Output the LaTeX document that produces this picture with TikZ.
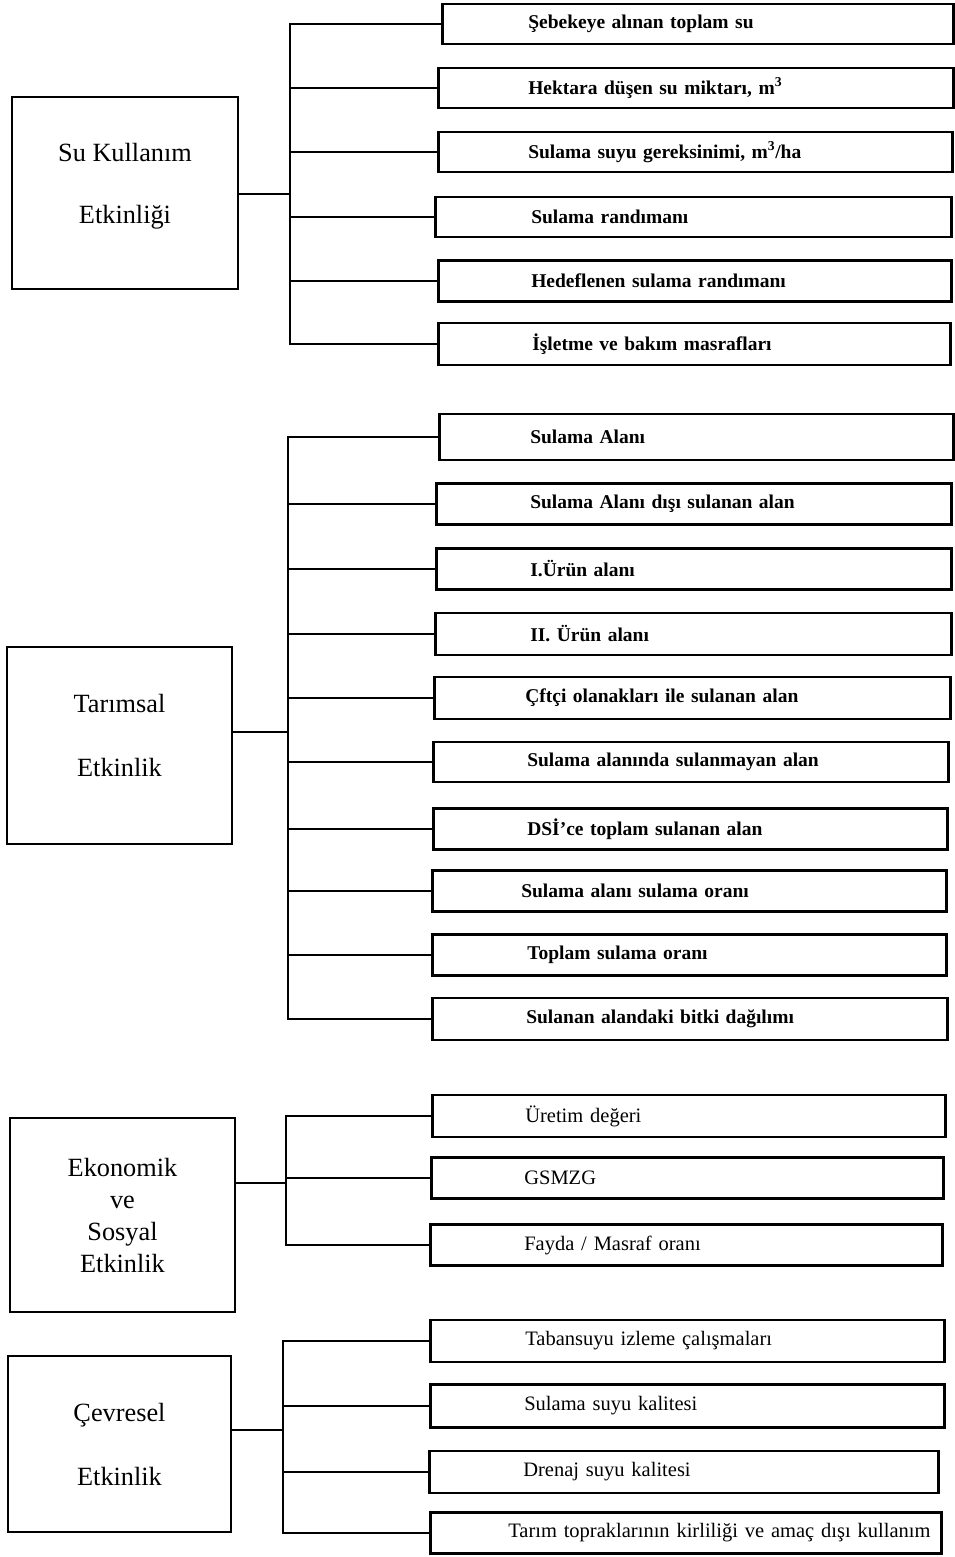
\documentclass[tikz,border=0pt]{standalone}
\usepackage{fontspec}
\setmainfont{Liberation Serif}
\tikzset{
  ana/.style={draw,line width=2.2pt,align=center,inner sep=0pt,
              font=\fontsize{26.3}{32}\selectfont},
  alt/.style={draw,line width=2.6pt,anchor=west,align=left,inner sep=0pt,
              font=\fontsize{19.5}{23}\selectfont\bfseries},
  altn/.style={alt,font=\fontsize{20.5}{24}\selectfont},
  hat/.style={line width=2pt},
}
\begin{document}
\begin{tikzpicture}[x=1pt,y=-1pt]
  \useasboundingbox (0,0) rectangle (955,1557);

  % Su Kullanim Etkinligi
  \node[ana,minimum width=226pt,minimum height=192pt,text depth=20pt] (su) at (125,193)
    {Su Kullanım\\[30pt]Etkinliği};
  \node[alt,text width=511pt,minimum height=40pt] (su1) at (441,24)
    {\hspace*{86pt}Şebekeye alınan toplam su};
  \node[alt,text width=515pt,minimum height=40pt] (su2) at (437,88)
    {\hspace*{90pt}Hektara düşen su miktarı, m\textsuperscript{3}};
  \node[alt,text width=514pt,minimum height=40pt] (su3) at (437,152)
    {\hspace*{90pt}Sulama suyu gereksinimi, m\textsuperscript{3}/ha};
  \node[alt,text width=516pt,minimum height=40pt] (su4) at (434,217)
    {\hspace*{96pt}Sulama randımanı};
  \node[alt,text width=513pt,minimum height=41pt] (su5) at (437,281)
    {\hspace*{93pt}Hedeflenen sulama randımanı};
  \node[alt,text width=512pt,minimum height=42pt] (su6) at (437,344)
    {\hspace*{94pt}İşletme ve bakım masrafları};
  \coordinate (t1) at (290,194);
  \draw[hat] (su.east |- t1) -- (t1);
  \draw[hat] (su1.west) -| (t1) |- (su6.west);
  \foreach \i in {2,...,5}
    \draw[hat] (su\i.west) -- (su\i.west -| t1);

  % Tarimsal Etkinlik
  \node[ana,minimum width=225pt,minimum height=197pt,text depth=20pt] (ta) at (119.5,745.5)
    {Tarımsal\\[32pt]Etkinlik};
  \node[alt,text width=514pt,minimum height=46pt] (ta1) at (438,437)
    {\hspace*{91pt}Sulama Alanı};
  \node[alt,text width=515pt,minimum height=41pt] (ta2) at (435,504)
    {\hspace*{94pt}Sulama Alanı dışı sulanan alan};
  \node[alt,text width=515pt,minimum height=41pt] (ta3) at (435,569)
    {\hspace*{94pt}I.Ürün alanı};
  \node[alt,text width=516pt,minimum height=42pt] (ta4) at (434,634)
    {\hspace*{95pt}II. Ürün alanı};
  \node[alt,text width=516pt,minimum height=42pt] (ta5) at (433,698)
    {\hspace*{91pt}Çftçi olanakları ile sulanan alan};
  \node[alt,text width=515pt,minimum height=40pt] (ta6) at (432,762)
    {\hspace*{94pt}Sulama alanında sulanmayan alan};
  \node[alt,text width=514pt,minimum height=41pt] (ta7) at (432,829)
    {\hspace*{94pt}DSİ'ce toplam sulanan alan};
  \node[alt,text width=514pt,minimum height=41pt] (ta8) at (431,891)
    {\hspace*{89pt}Sulama alanı sulama oranı};
  \node[alt,text width=514pt,minimum height=41pt] (ta9) at (431,955)
    {\hspace*{95pt}Toplam sulama oranı};
  \node[alt,text width=515pt,minimum height=42pt] (ta10) at (431,1019)
    {\hspace*{94pt}Sulanan alandaki bitki dağılımı};
  \coordinate (t2) at (288,732);
  \draw[hat] (ta.east |- t2) -- (t2);
  \draw[hat] (ta1.west) -| (t2) |- (ta10.west);
  \foreach \i in {2,...,9}
    \draw[hat] (ta\i.west) -- (ta\i.west -| t2);

  % Ekonomik ve Sosyal Etkinlik
  \node[ana,minimum width=225pt,minimum height=194pt] (ek) at (122.5,1215)
    {Ekonomik\\ve\\Sosyal\\Etkinlik};
  \node[altn,text width=513pt,minimum height=42pt] (ek1) at (431,1116)
    {\hspace*{93pt}Üretim değeri};
  \node[altn,text width=512pt,minimum height=41pt] (ek2) at (430,1178)
    {\hspace*{93pt}GSMZG};
  \node[altn,text width=512pt,minimum height=41pt] (ek3) at (429,1245)
    {\hspace*{94pt}Fayda / Masraf oranı};
  \coordinate (t3) at (286,1183);
  \draw[hat] (ek.east |- t3) -- (t3);
  \draw[hat] (ek1.west) -| (t3) |- (ek3.west);
  \draw[hat] (ek2.west) -- (ek2.west -| t3);

  % Cevresel Etkinlik
  \node[ana,minimum width=223pt,minimum height=176pt] (ce) at (119.5,1444)
    {Çevresel\\[32pt]Etkinlik};
  \node[altn,text width=514pt,minimum height=42pt] (ce1) at (429,1341)
    {\hspace*{95pt}Tabansuyu izleme çalışmaları};
  \node[altn,text width=514pt,minimum height=43pt] (ce2) at (429,1406)
    {\hspace*{94pt}Sulama suyu kalitesi};
  \node[altn,text width=509pt,minimum height=42pt] (ce3) at (428,1472)
    {\hspace*{94pt}Drenaj suyu kalitesi};
  \node[altn,text width=511pt,minimum height=41pt] (ce4) at (429,1533)
    {\hspace*{78pt}Tarım topraklarının kirliliği ve amaç dışı kullanım};
  \coordinate (t4) at (283,1430);
  \draw[hat] (ce.east |- t4) -- (t4);
  \draw[hat] (ce1.west) -| (t4) |- (ce4.west);
  \foreach \i in {2,3}
    \draw[hat] (ce\i.west) -- (ce\i.west -| t4);
\end{tikzpicture}
\end{document}
